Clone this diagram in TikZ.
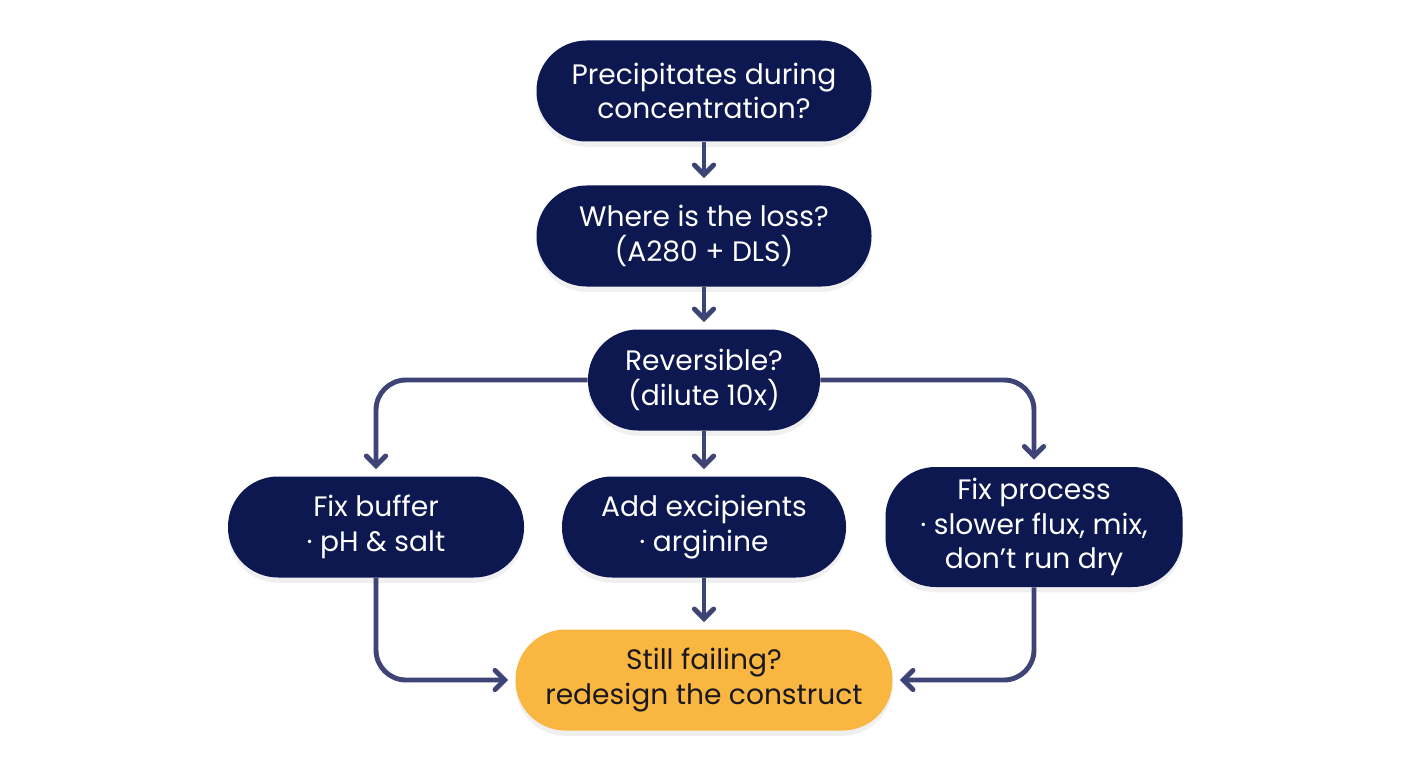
\documentclass[tikz,border=0pt]{standalone}
\usepackage{fontspec}
\setmainfont{Poppins}
\usepackage{tikz}
\definecolor{navy}{RGB}{13, 23, 80}
\definecolor{linkc}{RGB}{62, 69, 118}
\definecolor{amber}{RGB}{249, 182, 64}
\definecolor{ink}{RGB}{26, 24, 30}
\usetikzlibrary{arrows.meta, positioning, calc, shadows}

\begin{document}
\begin{tikzpicture}[
    box/.style={fill=navy, text=white, rounded corners=1cm, minimum height=2.02cm,
                align=center, font=\fontsize{16}{19.5}\selectfont,
                drop shadow={opacity=0.12, shadow xshift=0pt, shadow yshift=-3pt}},
    endbox/.style={box, fill=amber, text=ink},
    arrow/.style={-{Straight Barb[length=5.5pt, width=11pt, line cap=round]}, line width=2.8pt,
                  linkc, shorten >=4pt, rounded corners=0.6cm}
]
    \useasboundingbox (0,0) rectangle (28.16,-15.36);
    \node[box, minimum width=6.7cm] (start) at (14.08,-1.82) {Precipitates during\\concentration?};
    \node[box, minimum width=6.7cm] (loss) at (14.08,-4.72) {Where is the loss?\\(A280 + DLS)};
    \node[box, minimum width=4.64cm] (rev) at (14.08,-7.6) {Reversible?\\(dilute 10x)};
    \node[box, minimum width=5.92cm] (buffer) at (7.52,-10.54) {Fix buffer\\· pH \& salt};
    \node[box, minimum width=5.68cm] (excip) at (14.08,-10.54) {Add excipients\\· arginine};
    \node[box, minimum width=5.94cm, minimum height=2.4cm] (process) at (20.68,-10.54) {Fix process\\· slower flux, mix,\\don’t run dry};
    \node[endbox, minimum width=7.54cm] (fail) at (14.08,-13.6) {Still failing?\\redesign the construct};
    
    \draw[arrow] (start) -- (loss);
    \draw[arrow] (loss) -- (rev);
    \draw[arrow] (rev) -- (excip);
    \draw[arrow] (rev.west) -| (buffer.north);
    \draw[arrow] (rev.east) -| (process.north);
    \draw[arrow] (excip) -- (fail);
    \draw[arrow] (buffer.south) |- (fail.west);
    \draw[arrow] (process.south) |- (fail.east);
\end{tikzpicture}
\end{document}
